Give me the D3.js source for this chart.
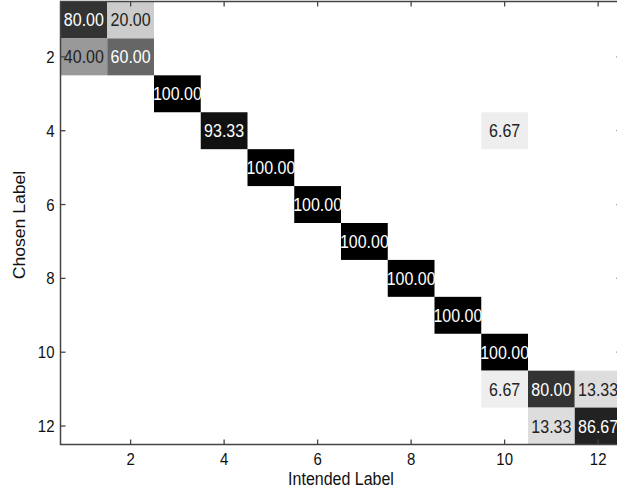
<!DOCTYPE html>
<html>
<head>
<meta charset="utf-8">
<script src="https://cdn.jsdelivr.net/npm/d3@7"></script>
<style>
  html, body { margin: 0; padding: 0; background: #fff; }
  svg { display: block; }
  text { font-family: Arial, "Liberation Sans", sans-serif; }
</style>
</head>
<body>
<svg id="chart" width="617" height="493"></svg>
<script>
// Class labels (1..12) for both axes
const labels = d3.range(1, 13);
const tickValues = [2, 4, 6, 8, 10, 12];

// Confusion matrix in percent: rows = chosen label, columns = intended label
const rates = [
  [80, 20, 0, 0, 0, 0, 0, 0, 0, 0, 0, 0],
  [40, 60, 0, 0, 0, 0, 0, 0, 0, 0, 0, 0],
  [0, 0, 100, 0, 0, 0, 0, 0, 0, 0, 0, 0],
  [0, 0, 0, 93.33, 0, 0, 0, 0, 0, 6.67, 0, 0],
  [0, 0, 0, 0, 100, 0, 0, 0, 0, 0, 0, 0],
  [0, 0, 0, 0, 0, 100, 0, 0, 0, 0, 0, 0],
  [0, 0, 0, 0, 0, 0, 100, 0, 0, 0, 0, 0],
  [0, 0, 0, 0, 0, 0, 0, 100, 0, 0, 0, 0],
  [0, 0, 0, 0, 0, 0, 0, 0, 100, 0, 0, 0],
  [0, 0, 0, 0, 0, 0, 0, 0, 0, 100, 0, 0],
  [0, 0, 0, 0, 0, 0, 0, 0, 0, 6.67, 80, 13.33],
  [0, 0, 0, 0, 0, 0, 0, 0, 0, 0, 13.33, 86.67]
];

const svg = d3.select("#chart");

// Axes box (extends a little past the right edge of the page)
const boxL = 60.5, boxR = 621.5, boxT = 1.5, boxB = 444.5;

const x = d3.scaleLinear().domain([0.5, 12.5]).range([boxL, boxR]);
const y = d3.scaleLinear().domain([0.5, 12.5]).range([boxT, boxB]);
const shade = d3.scaleLinear().domain([0, 100]).range(["#ffffff", "#000000"]);
const fmt = d3.format(".2f");

const cells = [];
rates.forEach((row, i) => row.forEach((v, j) => {
  if (v > 0) cells.push({ chosen: labels[i], intended: labels[j], value: v });
}));

const cw = x(1.5) - x(0.5), ch = y(1.5) - y(0.5);

const g = svg.append("g");
g.selectAll("rect.cell")
  .data(cells)
  .enter().append("rect")
  .attr("class", "cell")
  .attr("x", d => x(d.intended - 0.5))
  .attr("y", d => y(d.chosen - 0.5))
  .attr("width", cw)
  .attr("height", ch)
  .attr("fill", d => shade(d.value));

// Value labels, slightly stretched vertically
g.selectAll("text.val")
  .data(cells)
  .enter().append("text")
  .attr("class", "val")
  .attr("transform", d => `translate(${x(d.intended)},${y(d.chosen) + 6.5}) scale(1,1.12)`)
  .attr("text-anchor", "middle")
  .attr("font-size", 16)
  .attr("fill", d => d.value > 50 ? "#ffffff" : "#222222")
  .text(d => fmt(d.value));

// Frame
const axisColor = "#444";
svg.append("rect")
  .attr("x", boxL).attr("y", boxT)
  .attr("width", boxR - boxL).attr("height", boxB - boxT)
  .attr("fill", "none").attr("stroke", axisColor).attr("stroke-width", 1.5);

// Inward ticks on all four sides
const tl = 5;
const ticks = svg.append("g").attr("stroke", axisColor).attr("stroke-width", 1.3);
tickValues.forEach(v => {
  ticks.append("line").attr("x1", x(v)).attr("x2", x(v)).attr("y1", boxB).attr("y2", boxB - tl);
  ticks.append("line").attr("x1", x(v)).attr("x2", x(v)).attr("y1", boxT).attr("y2", boxT + tl);
  ticks.append("line").attr("y1", y(v)).attr("y2", y(v)).attr("x1", boxL).attr("x2", boxL + tl);
  ticks.append("line").attr("y1", y(v)).attr("y2", y(v)).attr("x1", boxR).attr("x2", boxR - tl);
});

// Tick labels
svg.append("g").selectAll("text")
  .data(tickValues)
  .enter().append("text")
  .attr("transform", d => `translate(${x(d)},${boxB + 20}) scale(1,1.12)`)
  .attr("text-anchor", "middle")
  .attr("font-size", 15)
  .attr("fill", "#111")
  .text(d => d);

svg.append("g").selectAll("text")
  .data(tickValues)
  .enter().append("text")
  .attr("transform", d => `translate(${boxL - 6},${y(d) + 6}) scale(1,1.12)`)
  .attr("text-anchor", "end")
  .attr("font-size", 15)
  .attr("fill", "#111")
  .text(d => d);

// Axis titles
svg.append("text")
  .attr("transform", `translate(${(boxL + boxR) / 2},${boxB + 40}) scale(1,1.12)`)
  .attr("text-anchor", "middle")
  .attr("font-size", 16)
  .attr("fill", "#111")
  .text("Intended Label");

svg.append("text")
  .attr("transform", `translate(25,225) rotate(-90) scale(1.12,1)`)
  .attr("text-anchor", "middle")
  .attr("font-size", 15.7)
  .attr("fill", "#111")
  .text("Chosen Label");
</script>
</body>
</html>
